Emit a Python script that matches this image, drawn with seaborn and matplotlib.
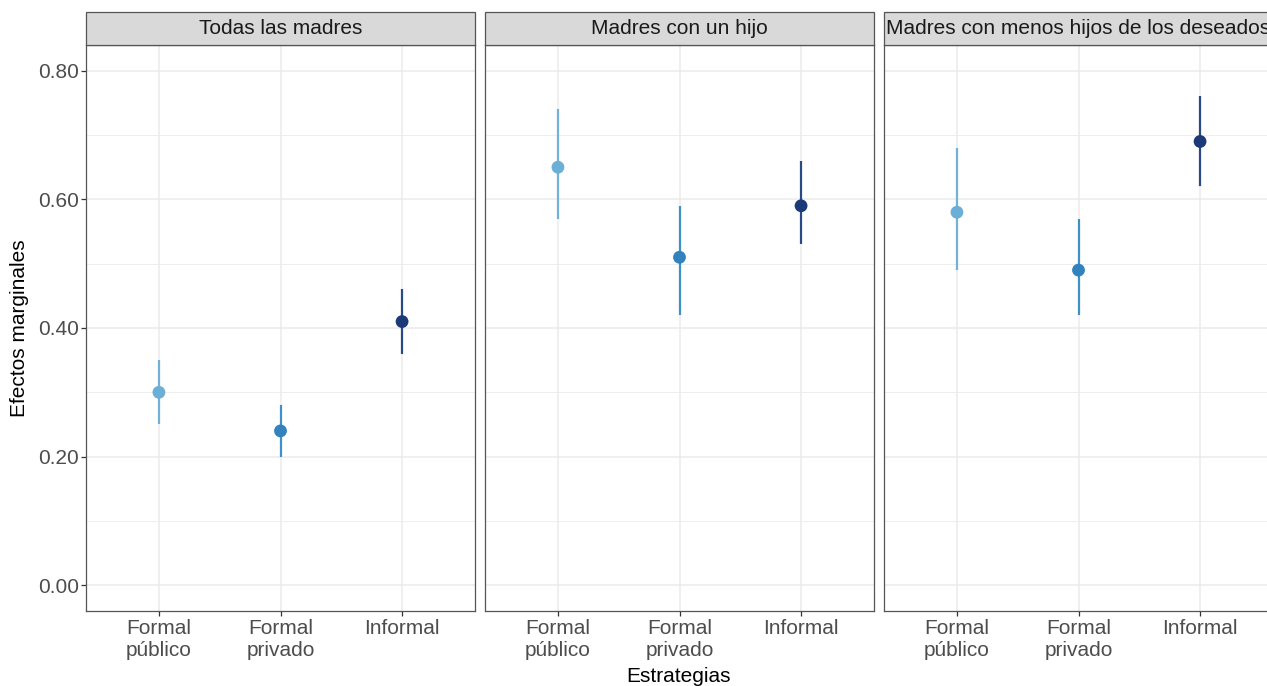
import numpy as np
import pandas as pd
import matplotlib
matplotlib.use("Agg")
import matplotlib.pyplot as plt
import seaborn as sns
from matplotlib.patches import Rectangle
from matplotlib.ticker import MultipleLocator

# ---------------- data ----------------
panels = ["Todas las madres", "Madres con un hijo",
          "Madres con menos hijos de los deseados"]
strategies = ["Formal\npúblico", "Formal\nprivado", "Informal"]

est_todas = [0.30, 0.24, 0.41]
low_todas = [0.25, 0.20, 0.36]
up_todas = [0.35, 0.28, 0.46]

est_unhijo = [0.65, 0.51, 0.59]
low_unhijo = [0.57, 0.42, 0.53]
up_unhijo = [0.74, 0.59, 0.66]

est_menos = [0.58, 0.49, 0.69]
low_menos = [0.49, 0.42, 0.62]
up_menos = [0.68, 0.57, 0.76]

y_ticks = [0.0, 0.2, 0.4, 0.6, 0.8]
y_tick_labels = ["0.00", "0.20", "0.40", "0.60", "0.80"]

point_colors = ["#6baed6", "#3182bd", "#1c3a78"]
line_colors = ["#74b1d8", "#4090c8", "#2a4a86"]

rows = []
for p, e, lo, up in zip(panels,
                        [est_todas, est_unhijo, est_menos],
                        [low_todas, low_unhijo, low_menos],
                        [up_todas, up_unhijo, up_menos]):
    for s, ei, li, ui in zip(strategies, e, lo, up):
        rows.append(dict(panel=p, strategy=s, est=ei, low=li, up=ui))
df = pd.DataFrame(rows)

# ---------------- figure ----------------
sns.set_theme(style="white")
plt.rcParams["font.family"] = ["Liberation Sans", "DejaVu Sans"]

W, H = 1267, 686
fig = plt.figure(figsize=(W / 100, H / 100), dpi=100)

panel_left = [86, 485, 884]
panel_w = 389
top, bottom = 45, 611
strip_h = 33

fs = 15
grid_c = "#ebebeb"
border_c = "#555555"

for i, p in enumerate(panels):
    ax = fig.add_axes([panel_left[i] / W, (H - bottom) / H,
                       panel_w / W, (bottom - top) / H])
    sub = df[df["panel"] == p]
    ax.vlines(sub["strategy"], sub["low"], sub["up"],
              colors=line_colors, linewidth=1.6, zorder=3)
    sns.scatterplot(data=sub, x="strategy", y="est", hue="strategy",
                    palette=point_colors, hue_order=strategies,
                    s=85, linewidth=0, legend=False, ax=ax, zorder=4)
    ax.set_xlim(-0.6, 2.6)
    ax.set_ylim(-0.04, 0.84)
    ax.set_yticks(y_ticks)
    ax.yaxis.set_minor_locator(MultipleLocator(0.1))
    ax.grid(True, which="major", color=grid_c, linewidth=1.1, zorder=0)
    ax.grid(True, which="minor", axis="y", color=grid_c, linewidth=0.6, zorder=0)
    ax.set_axisbelow(True)
    ax.tick_params(axis="y", which="minor", length=0)
    ax.tick_params(axis="x", which="major", length=3.5, width=0.9,
                   color="#333333", pad=2.0, labelsize=fs, labelcolor="#4d4d4d",
                   bottom=True)
    for lab in ax.get_xticklabels():
        lab.set_linespacing(1.2)
    if i == 0:
        ax.set_yticklabels(y_tick_labels)
        ax.tick_params(axis="y", which="major", length=3.5, width=0.9,
                       color="#333333", pad=1.5, labelsize=fs,
                       labelcolor="#4d4d4d", left=True)
    else:
        ax.tick_params(axis="y", which="major", left=False, labelleft=False)
    for sp in ax.spines.values():
        sp.set_color(border_c)
        sp.set_linewidth(0.9)
        sp.set_visible(True)
    ax.set_xlabel("")
    ax.set_ylabel("")
    # strip
    sh = strip_h / (bottom - top)
    ax.add_patch(Rectangle((0, 1), 1, sh, transform=ax.transAxes,
                           facecolor="#d9d9d9", edgecolor=border_c,
                           linewidth=0.9, clip_on=False, zorder=5))
    ax.text(0.5, 1 + sh / 2, p, transform=ax.transAxes, ha="center",
            va="center", fontsize=fs, color="#1a1a1a", zorder=6)

fig.text(20 / W, 1 - 328 / H, "Efectos marginales", rotation=90,
         ha="center", va="center", fontsize=fs, color="black")
fig.text(679 / W, 1 - 676 / H, "Estrategias", ha="center", va="center",
         fontsize=fs, color="black")

fig.savefig("out.png", dpi=100, facecolor="white")
